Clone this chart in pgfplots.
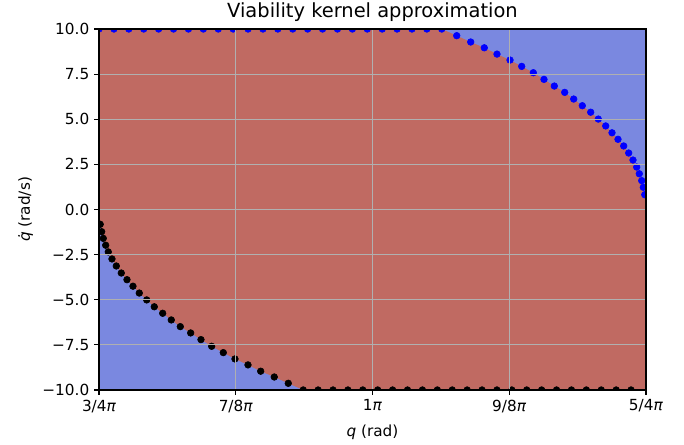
\documentclass[border=0pt]{standalone}
\usepackage{fontspec}
\setmainfont{DejaVu Sans}
\usepackage{pgfplots}
\pgfplotsset{compat=1.18}
\definecolor{kblue}{RGB}{122,136,224}
\definecolor{kred}{RGB}{192,106,98}
\definecolor{gridgray}{RGB}{176,176,176}
\begin{document}
\begin{tikzpicture}
\path[use as bounding box] (-71.3pt,-39.6pt) rectangle (421.2pt,280.8pt);
\begin{axis}[at={(0,0)},anchor=south west,
  axis on top,scale only axis,width=393.8pt,height=259.9pt,
  xmin=2.35619,xmax=3.92699,ymin=-10,ymax=10,
  xtick={2.35619,2.74889,3.14159,3.53429,3.92699},
  xticklabels={3/4\textit{π},7/8\textit{π},1\textit{π},9/8\textit{π},5/4\textit{π}},
  ytick={-10,-7.5,-5,-2.5,0,2.5,5,7.5,10},
  yticklabels={−10.0,−7.5,−5.0,−2.5,0.0,2.5,5.0,7.5,10.0},
  tick label style={font=\fontsize{11}{13}\selectfont},
  tick align=outside,major tick length=3.5pt,
  tick style={black,line width=0.8pt},
  xtick pos=bottom,ytick pos=left,
  grid=major,major grid style={gridgray,line width=0.8pt},
  axis line style={line width=0.8pt},
  clip marker paths=true,
  title={Viability kernel approximation},
  title style={font=\fontsize{14}{16}\selectfont,at={(axis description cs:0.5,1)},anchor=base,yshift=2pt,inner sep=0pt},
  xlabel={\textit{q} (rad)},
  xlabel style={font=\fontsize{11}{13}\selectfont,at={(axis description cs:0.5,0)},anchor=base,yshift=-33.5pt,inner sep=0pt},
  ylabel={\textit{\.{q}} (rad/s)},
  ylabel style={font=\fontsize{11}{13}\selectfont,at={(axis description cs:-0.134,0.5)},anchor=center,inner sep=0pt},
]

% outside of the kernel
\addplot[fill=kblue,draw=none] coordinates {
  (2.35619,-10)(3.92699,-10)(3.92699,10)(2.35619,10)(2.35619,-10)};

% viable region
\addplot[fill=kred,draw=none] coordinates {
  (2.35619,10)(3.3406,10)(3.3835,9.63)(3.4237,9.28)(3.4627,8.96)(3.4992,8.61)
  (3.5366,8.28)(3.5701,7.93)(3.6035,7.58)(3.6342,7.21)(3.6638,6.84)(3.6936,6.49)
  (3.7195,6.12)(3.7442,5.75)(3.7683,5.39)(3.7901,5.01)(3.8114,4.63)(3.8295,4.25)
  (3.8467,3.89)(3.8631,3.52)(3.8774,3.13)(3.8898,2.74)(3.9004,2.35)(3.9079,1.98)
  (3.9148,1.60)(3.9194,1.23)(3.9236,0.82)(3.92699,0.70)(3.92699,-10)
  (2.9426,-10)(2.8997,-9.63)(2.8595,-9.28)(2.8205,-8.96)(2.7840,-8.61)
  (2.7466,-8.28)(2.7131,-7.93)(2.6797,-7.58)(2.6490,-7.21)(2.6194,-6.84)(2.5896,-6.49)
  (2.5637,-6.12)(2.5390,-5.75)(2.5149,-5.39)(2.4931,-5.01)(2.4718,-4.63)(2.4537,-4.25)
  (2.4365,-3.89)(2.4201,-3.52)(2.4058,-3.13)(2.3934,-2.74)(2.3828,-2.35)(2.3753,-1.98)
  (2.3684,-1.60)(2.3638,-1.23)(2.3596,-0.82)(2.35619,-0.70)(2.35619,10)};

% blue boundary points
\addplot[only marks,mark=*,mark size=2.4pt,color=blue] coordinates {
  (2.3562,10)(2.3990,10)(2.4418,10)(2.4846,10)(2.5274,10)(2.5702,10)(2.6130,10)
  (2.6558,10)(2.6986,10)(2.7414,10)(2.7842,10)(2.8270,10)(2.8698,10)(2.9126,10)
  (2.9554,10)(2.9982,10)(3.0410,10)(3.0838,10)(3.1266,10)(3.1694,10)(3.2122,10)
  (3.2550,10)(3.2978,10)(3.3406,10)
  (3.3835,9.63)(3.4237,9.28)(3.4627,8.96)(3.4992,8.61)(3.5366,8.28)(3.5701,7.93)
  (3.6035,7.58)(3.6342,7.21)(3.6638,6.84)(3.6936,6.49)(3.7195,6.12)(3.7442,5.75)
  (3.7683,5.39)(3.7901,5.01)(3.8114,4.63)(3.8295,4.25)(3.8467,3.89)(3.8631,3.52)
  (3.8774,3.13)(3.8898,2.74)(3.9004,2.35)(3.9079,1.98)(3.9148,1.60)(3.9194,1.23)
  (3.9236,0.82)};

% black boundary points
\addplot[only marks,mark=*,mark size=2.4pt,color=black] coordinates {
  (3.9270,-10)(3.8842,-10)(3.8414,-10)(3.7986,-10)(3.7558,-10)(3.7130,-10)(3.6702,-10)
  (3.6274,-10)(3.5846,-10)(3.5418,-10)(3.4990,-10)(3.4562,-10)(3.4134,-10)(3.3706,-10)
  (3.3278,-10)(3.2850,-10)(3.2422,-10)(3.1994,-10)(3.1566,-10)(3.1138,-10)(3.0710,-10)
  (3.0282,-10)(2.9854,-10)(2.9426,-10)
  (2.8997,-9.63)(2.8595,-9.28)(2.8205,-8.96)(2.7840,-8.61)(2.7466,-8.28)(2.7131,-7.93)
  (2.6797,-7.58)(2.6490,-7.21)(2.6194,-6.84)(2.5896,-6.49)(2.5637,-6.12)(2.5390,-5.75)
  (2.5149,-5.39)(2.4931,-5.01)(2.4718,-4.63)(2.4537,-4.25)(2.4365,-3.89)(2.4201,-3.52)
  (2.4058,-3.13)(2.3934,-2.74)(2.3828,-2.35)(2.3753,-1.98)(2.3684,-1.60)(2.3638,-1.23)
  (2.3596,-0.82)};
\end{axis}
\end{tikzpicture}
\end{document}
